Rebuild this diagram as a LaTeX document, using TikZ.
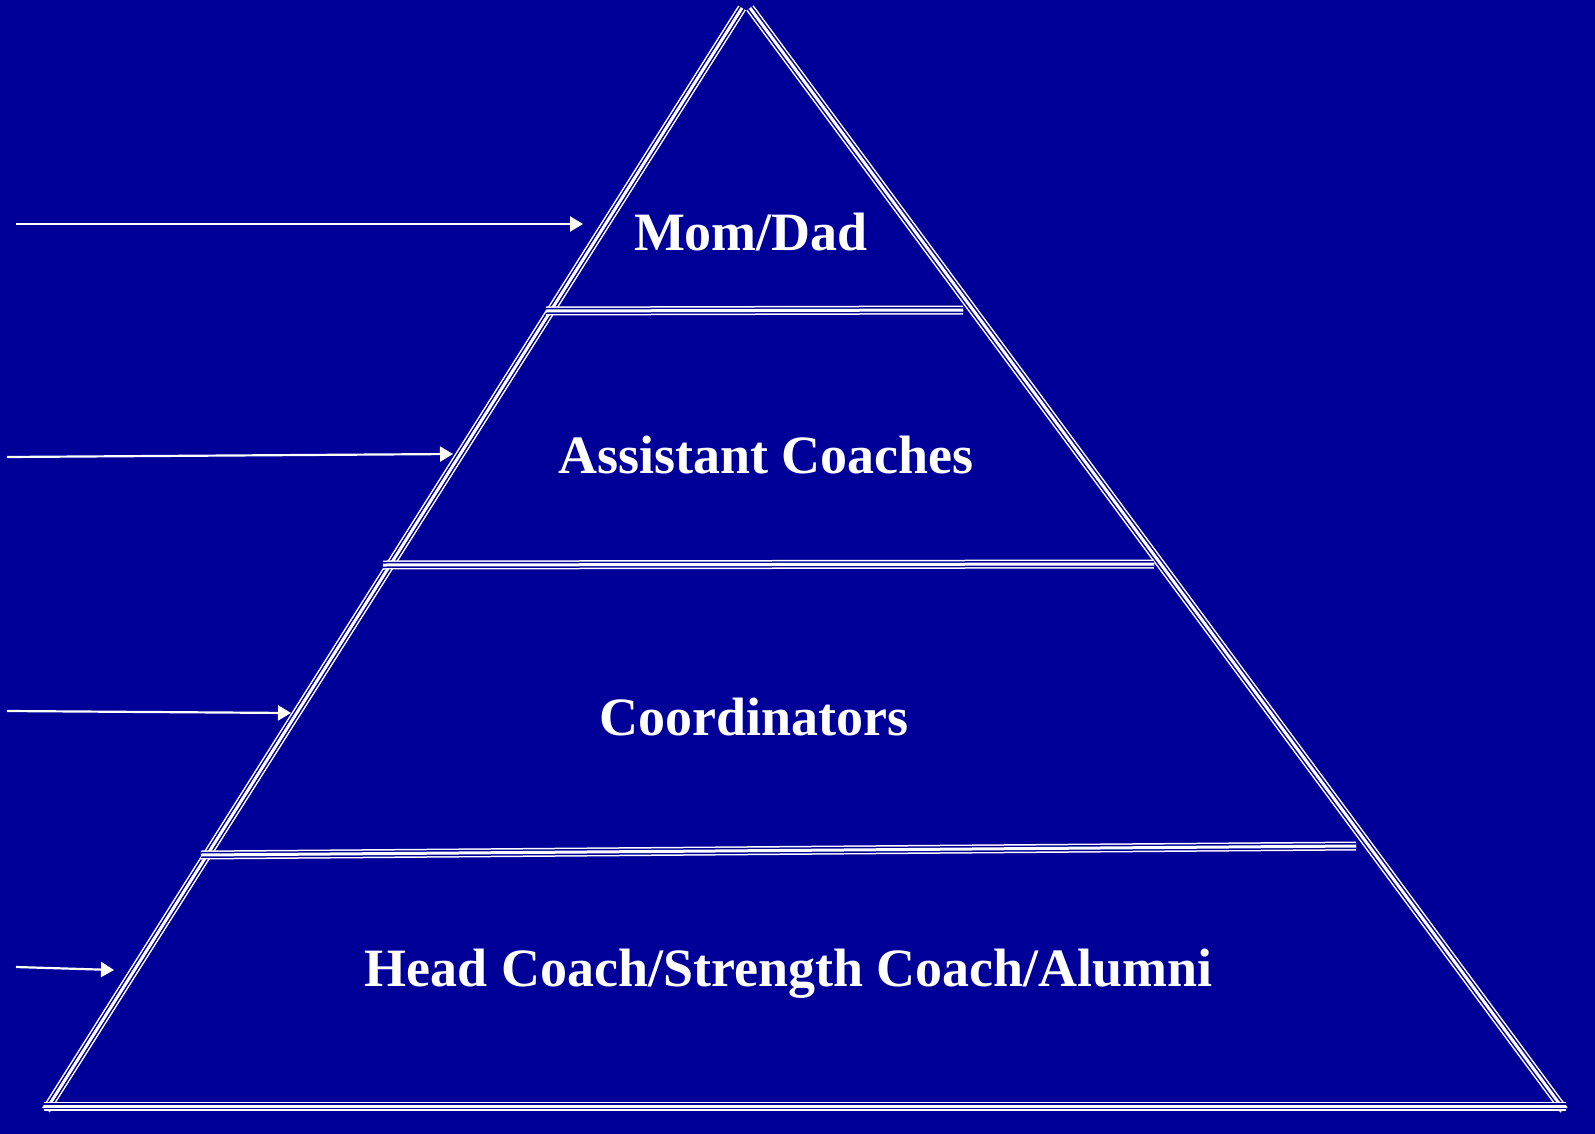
\documentclass[tikz,border=0pt]{standalone}
\usepackage{fontspec}
\setmainfont{Liberation Serif}
\usetikzlibrary{arrows.meta}
\definecolor{slideblue}{RGB}{0,0,153}
\tikzset{
  tripleline/.style={preaction={draw=white,line width=9},draw=slideblue,line width=6,
    postaction={draw=white,line width=3}},
  pointer/.style={draw=white,line width=2.2,-{Triangle[length=13,width=15]}},
  tierlabel/.style={text=white,font=\fontsize{54}{60}\selectfont\bfseries,inner sep=0pt}
}

\begin{document}
\begin{tikzpicture}[x=1pt,y=1pt,yscale=-1,xscale=1]
\fill[slideblue] (0,0) rectangle (1595,1134);
\useasboundingbox (0,0) rectangle (1595,1134);

% Pyramid corners
\coordinate (apexL) at (742,8);
\coordinate (apexR) at (750,8);
\coordinate (baseL) at (46,1110);
\coordinate (baseR) at (1564,1110);

%Straight Lines  (sides and base)
\draw [tripleline] (apexL) -- (baseL) ;
\draw [tripleline] (apexR) -- (baseR) ;
\draw [tripleline] (44,1106) -- (1566,1106) ;

%Straight Lines  (tier dividers)
\draw [tripleline] (546,311) -- (963,310) ;
\draw [tripleline] (383,565) -- (1154,564) ;
\draw [tripleline] (201,855) -- (1356,846) ;

% Text Node
\node [tierlabel] (momdad) at (751,232) {Mom/Dad};
% Text Node
\node [tierlabel] (assistant) at (766,455) {Assistant Coaches};
% Text Node
\node [tierlabel] (coord) at (754,717) {Coordinators};
% Text Node
\node [tierlabel] (head) at (789,974) {Head Coach/Strength Coach/Alumni};

% Arrows
\coordinate (fromA) at (16,224);  \coordinate (toA) at (583,224);
\coordinate (fromB) at (7,457);   \coordinate (toB) at (453,454);
\coordinate (fromC) at (7,711);   \coordinate (toC) at (291,713);
\coordinate (fromD) at (16,967);  \coordinate (toD) at (114,970);
\draw [pointer] (fromA) -- (toA) ;
\draw [pointer] (fromB) -- (toB) ;
\draw [pointer] (fromC) -- (toC) ;
\draw [pointer] (fromD) -- (toD) ;

\end{tikzpicture}
\end{document}
